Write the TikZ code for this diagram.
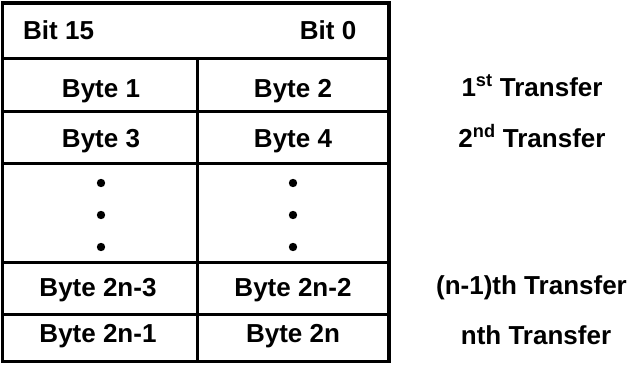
\documentclass[tikz,border=0pt]{standalone}
\usepackage{fontspec}
\setmainfont{Liberation Sans}
\begin{document}
\begin{tikzpicture}[x=1pt,y=-1pt,line width=3.4pt,
    every node/.style={font=\fontsize{26}{30}\selectfont\bfseries,
      anchor=base,inner sep=0pt}]
  \useasboundingbox (0,0) rectangle (634,364);
  % table frame and rules
  \draw (2.5,3) rectangle (389,361.5);
  \draw (2.5,58.5) -- (389,58.5);
  \draw (2.5,111.5) -- (389,111.5);
  \draw (2.5,163.5) -- (389,163.5);
  \draw (2.5,262.5) -- (389,262.5);
  \draw (2.5,314.5) -- (389,314.5);
  \draw (197.5,58.5) -- (197.5,361.5);
  % cells
  \draw
    (21.5,39.5) node[anchor=base west] (h0){Bit 15}
    (358,39.5) node[anchor=base east] (h1){Bit 0}
    (101,97.5) node (b1){Byte 1}
    (293,97.5) node (b2){Byte 2}
    (101,147.5) node (b3){Byte 3}
    (293,147.5) node (b4){Byte 4}
    (98,296.5) node (b5){Byte 2n-3}
    (293,296.5) node (b6){Byte 2n-2}
    (98,342) node (b7){Byte 2n-1}
    (293,342) node (b8){Byte 2n};
  \foreach \y in {183,215,247} {
    \fill (101,\y) circle (4.2pt);
    \fill (293,\y) circle (4.2pt);
  }
  % transfers
  \draw
    (532,96) node (t1){1\textsuperscript{st} Transfer}
    (532,147) node (t2){2\textsuperscript{nd} Transfer}
    (531.5,294) node (t3){(n-1)th Transfer}
    (536,344) node (t4){nth Transfer};
\end{tikzpicture}
\end{document}
